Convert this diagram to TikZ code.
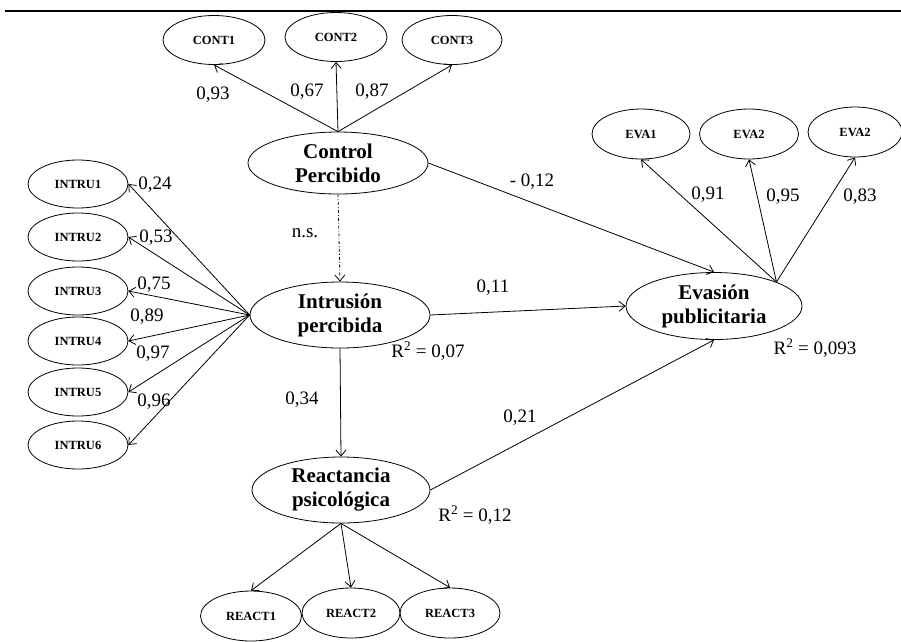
\documentclass[tikz,border=0pt]{standalone}
\usepackage{fontspec}
\setmainfont{Liberation Serif}
\usetikzlibrary{arrows.meta,shapes.geometric}

\begin{document}
\begin{tikzpicture}[
      x = 1pt, y = -1pt,
      line width = 0.8pt,
      path edge/.style={-{Straight Barb[length=6pt, width=10pt]}},
      ns edge/.style={path edge, dash dot},
      latent/.style={
        draw,
        ellipse,
        inner sep = 0pt,
        minimum width = 178pt,
        minimum height = 66pt,
        align = center,
        font = \fontsize{21}{24}\selectfont\bfseries,
      },
      indicator/.style={
        draw,
        ellipse,
        inner sep = 0pt,
        minimum width = 100pt,
        minimum height = 49pt,
        font = \fontsize{12.5}{14}\selectfont\bfseries,
      },
      coef/.style={inner sep = 0pt, font = \fontsize{19}{22}\selectfont},
    ]
    \useasboundingbox (0, 0) rectangle (901, 641);
    \draw[line width = 2.2pt] (5, 11) -- (901, 11);

    \node[latent, minimum width = 180pt, minimum height = 62pt] (ctrl) at (338, 163)
      {Control\\Percibido};
    \node[latent, minimum width = 180pt] (intr) at (340, 315)
      {Intrusión\\percibida};
    \node[latent] (react) at (341, 490)
      {Reactancia\\psicológica};
    \node[latent, minimum width = 176pt, minimum height = 67pt] (evas) at (714, 306)
      {Evasión\\publicitaria};

    \node[indicator, minimum width = 102pt] (cont1) at (214, 40) {CONT1};
    \node[indicator, minimum width = 102pt] (cont2) at (336, 37) {CONT2};
    \node[indicator] (cont3) at (452, 40) {CONT3};

    \node[indicator, minimum width = 98pt, minimum height = 50pt] (eva1) at (641, 134) {EVA1};
    \node[indicator, minimum width = 99pt, minimum height = 50pt] (eva2) at (749, 134) {EVA2};
    \node[indicator, minimum width = 94pt, minimum height = 50pt] (eva3) at (855, 132) {EVA2};

    \node[indicator, minimum height = 48pt] (intru1) at (78, 184) {INTRU1};
    \node[indicator, minimum height = 48pt] (intru2) at (78, 237) {INTRU2};
    \node[indicator, minimum height = 48pt] (intru3) at (78, 291) {INTRU3};
    \node[indicator, minimum height = 48pt] (intru4) at (78, 341) {INTRU4};
    \node[indicator, minimum height = 48pt] (intru5) at (78, 392) {INTRU5};
    \node[indicator, minimum height = 48pt] (intru6) at (78, 445) {INTRU6};

    \node[indicator, minimum width = 101pt, minimum height = 50pt] (react1) at (251, 616) {REACT1};
    \node[indicator, minimum width = 98pt, minimum height = 50pt] (react2) at (351, 613) {REACT2};
    \node[indicator, minimum height = 50pt] (react3) at (450, 613) {REACT3};

    % Structural paths between the constructs.
    \draw[path edge] (ctrl.east) -- (evas.north);
    \draw[ns edge] (ctrl.south) -- (intr.north);
    \draw[path edge] (intr.east) -- (evas.west);
    \draw[path edge] (intr.south) -- (react.north);
    \draw[path edge] (react.east) -- (evas.south);

    % Loadings from each construct to its items.
    \draw[path edge] (ctrl.north) -- (cont1.south);
    \draw[path edge] (ctrl.north) -- (cont2.south);
    \draw[path edge] (ctrl.north) -- (cont3.south);
    \draw[path edge] (intr.west) -- (intru1.east);
    \draw[path edge] (intr.west) -- (intru2.east);
    \draw[path edge] (intr.west) -- (intru3.east);
    \draw[path edge] (intr.west) -- (intru4.east);
    \draw[path edge] (intr.west) -- (intru5.east);
    \draw[path edge] (intr.west) -- (intru6.east);
    \draw[path edge] (evas.21) -- (eva1.south);
    \draw[path edge] (evas.21) -- (eva2.south);
    \draw[path edge] (evas.21) -- (eva3.south);
    \draw[path edge] (react.south) -- (react1.north);
    \draw[path edge] (react.south) -- (react2.north);
    \draw[path edge] (react.south) -- (react3.north);

    \node[coef] (l-cont1) at (213, 95) {0,93};
    \node[coef] (l-cont2) at (307, 92) {0,67};
    \node[coef] (l-cont3) at (372, 92) {0,87};
    \node[coef] (l-ctrl-evas) at (532, 182) {- 0,12};
    \node[coef] (l-ns) at (305, 233) {n.s.};
    \node[coef] (l-intr-evas) at (493, 288) {0,11};
    \node[coef] (l-intru1) at (155, 185) {0,24};
    \node[coef] (l-intru2) at (156, 238) {0,53};
    \node[coef] (l-intru3) at (154, 285) {0,75};
    \node[coef] (l-intru4) at (147, 317) {0,89};
    \node[coef] (l-intru5) at (153, 354) {0,97};
    \node[coef] (l-intru6) at (154, 402) {0,96};
    \node[coef] (r2-intr) at (428, 351) {R\textsuperscript{2} = 0,07};
    \node[coef] (l-intr-react) at (302, 400) {0,34};
    \node[coef] (l-react-evas) at (520, 418) {0,21};
    \node[coef] (r2-react) at (475, 515) {R\textsuperscript{2} = 0,12};
    \node[coef] (l-eva1) at (708, 195) {0,91};
    \node[coef] (l-eva2) at (783, 197) {0,95};
    \node[coef] (l-eva3) at (860, 197) {0,83};
    \node[coef] (r2-evas) at (815, 348) {R\textsuperscript{2} = 0,093};
  \end{tikzpicture}
\end{document}
